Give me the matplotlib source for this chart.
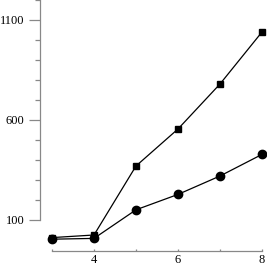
import matplotlib
matplotlib.use("Agg")
import matplotlib.pyplot as plt
from matplotlib.ticker import FixedLocator

x = [3, 4, 5, 6, 7, 8]
squares = [12, 25, 370, 555, 780, 1040]
circles = [4, 8, 151, 228, 320, 428]

plt.rcParams['font.family'] = ['Liberation Serif', 'DejaVu Serif']

fig = plt.figure(figsize=(2.67, 2.67), dpi=100)
ax = fig.add_axes([40/267, 16/267, 227/267, 251/267])

ax.plot(x, squares, color='black', lw=0.9, marker='s', ms=5, zorder=3)
ax.plot(x, circles, color='black', lw=0.9, marker='o', ms=6, zorder=3)

ax.set_xlim(3 - 12/42, 8 + 5/42)
ax.set_ylim(-55, 1200)

for s in ['top', 'right']:
    ax.spines[s].set_visible(False)
for s in ['left', 'bottom']:
    ax.spines[s].set_color('#888888')
    ax.spines[s].set_linewidth(0.9)
ax.spines['left'].set_bounds(100, 1200)
ax.spines['bottom'].set_bounds(3, 8)

ax.yaxis.set_major_locator(FixedLocator([100, 600, 1100]))
ax.yaxis.set_minor_locator(FixedLocator([200, 300, 400, 500, 700, 800, 900, 1000, 1200]))
ax.xaxis.set_major_locator(FixedLocator([4, 6, 8]))
ax.xaxis.set_minor_locator(FixedLocator([3, 5, 7]))

ax.tick_params(axis='y', which='major', direction='out', length=8, width=0.9,
               color='#888888', pad=3, labelsize=9)
ax.tick_params(axis='y', which='minor', direction='out', length=3.6, width=0.9,
               color='#888888')
ax.tick_params(axis='x', which='major', direction='in', length=1.8, width=0.9,
               color='#888888', pad=2, labelsize=9)
ax.tick_params(axis='x', which='minor', direction='in', length=1.2, width=0.9,
               color='#888888')

fig.savefig('out.png', dpi=100)
